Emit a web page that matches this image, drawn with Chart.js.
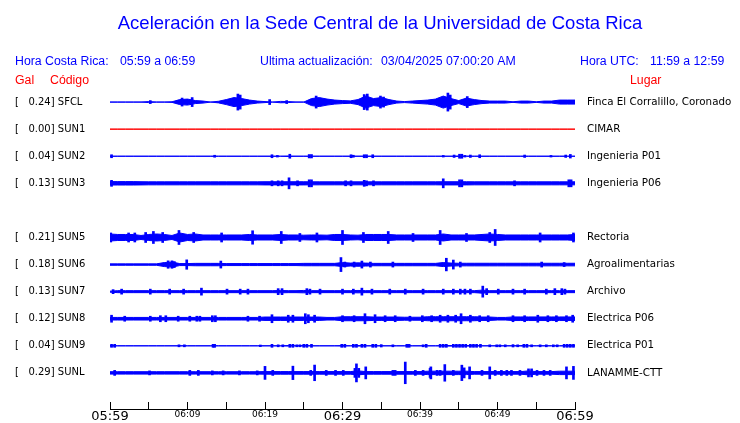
<!DOCTYPE html>
<html lang="es">
<head>
<meta charset="UTF-8">
<title>Aceleración en la Sede Central</title>
<style>
    body { margin: 0; background: #fff; }
</style>
</head>
<body>
<canvas id="sismo" width="740" height="423"></canvas>
<script src="https://cdn.jsdelivr.net/npm/chart.js"></script>
<script>
// ---- datos ----
const stations = ['SFCL', 'SUN1', 'SUN2', 'SUN3', 'SUN4', 'SUN5', 'SUN6', 'SUN7', 'SUN8', 'SUN9', 'SUNL'];
const galPeaks = [0.24, 0.00, 0.04, 0.13, null, 0.21, 0.18, 0.13, 0.12, 0.04, 0.29];
const places = ['Finca El Corralillo, Coronado', 'CIMAR', 'Ingenieria P01', 'Ingenieria P06', null,
    'Rectoria', 'Agroalimentarias', 'Archivo', 'Electrica P06', 'Electrica P01', 'LANAMME-CTT'];
const timeLabels = ['05:59', '06:09', '06:19', '06:29', '06:39', '06:49', '06:59'];
const utcLabels = ['11:59', '12:59'];
const lastUpdate = '03/04/2025 07:00:20 AM';

// envolvente (media amplitud) de cada traza, un valor por minuto 0..60
const envSFCL = [0, 0, 0, 0, 0, 0.5, 0, 0, 0.3, 2.5, 3, 1.5, 1, 0, 0.8, 2.5, 4.5, 3.5, 2, 1,
    0.5, 0, 0.7, 0.5, 0, 0, 3.5, 4.5, 3, 2, 1.5, 1.2, 2.5, 6, 3.5, 4.5, 2.5, 1, 0.5, 1,
    1.5, 2, 3, 6, 3.5, 1.5, 4, 2.5, 1.5, 1, 1, 1, 0.3, 1, 1, 0.3, 1, 1, 2, 2, 2];
const envSUN1 = [0, 0, 0, 0, 0, 0, 0, 0, 0, 0, 0, 0, 0, 0, 0, 0, 0, 0, 0, 0,
    0, 0, 0, 0, 0, 0, 0, 0, 0, 0, 0, 0, 0, 0, 0, 0, 0, 0, 0, 0,
    0, 0, 0, 0, 0, 0, 0, 0, 0, 0, 0, 0, 0, 0, 0, 0, 0, 0, 0, 0, 0];
const envSUN2 = [0, 0, 0, 0, 0, 0, 0, 0, 0, 0, 0, 0, 0, 0, 0, 0, 0, 0, 0, 0,
    0, 0, 0, 0.3, 0, 0, 0, 0, 0, 0, 0, 0, 0, 0, 0, 0, 0, 0, 0, 0,
    0, 0, 0, 0, 0, 0.3, 0, 0, 0, 0, 0, 0, 0, 0, 0, 0, 0, 0, 0, 0, 0];
const envSUN3 = [1.7, 1.7, 1.7, 1.7, 1.6, 1.5, 1.5, 1.5, 1.5, 1.5, 1.5, 1.5, 1.5, 1.5, 1.5, 1.5, 1.5, 1.5, 1.5, 1.5,
    1.6, 1.6, 1.6, 1.6, 1.6, 1.6, 1.5, 1.5, 1.5, 1.5, 1.5, 1.5, 1.5, 1.5, 1.5, 1.5, 1.5, 1.5, 1.5, 1.5,
    1.5, 1.5, 1.5, 1.6, 1.6, 1.6, 1.6, 1.5, 1.5, 1.5, 1.5, 1.5, 1.5, 1.5, 1.5, 1.5, 1.5, 1.5, 1.5, 1.5, 1.5];
const envSUN5 = [3.5, 3, 3, 3, 2, 3, 3.5, 3, 2, 4.5, 3, 3.5, 2.5, 2.5, 2.5, 2.5, 2.5, 2.5, 3, 2.5,
    2.5, 2.5, 3, 2.5, 2.5, 2.3, 2.5, 2.5, 2.3, 3, 3, 2.5, 2.3, 3, 3, 3, 3, 2.5, 2.5, 2.5,
    2.5, 2.5, 2.5, 3.5, 2.5, 2.5, 2.5, 2.5, 3, 3.5, 3, 2.5, 2.5, 2.5, 2.5, 2.5, 2.5, 2.5, 2.5, 2.5, 3];
const envSUN6 = [0.7, 0.7, 0.7, 0.7, 0.7, 0.7, 0.7, 2, 2.5, 1, 1, 1.2, 1.2, 1.2, 1.2, 1, 1, 1, 1, 1,
    1, 1, 1, 1, 1, 1.2, 1.2, 1.2, 1.2, 1.2, 2, 1.5, 1.7, 1.5, 1.2, 1.2, 1.2, 1.2, 1.2, 1.2,
    1.2, 1.2, 1.2, 2, 1.5, 1.3, 1.3, 1.3, 1.3, 1.3, 1.3, 1.3, 1.3, 1.3, 1.3, 1.3, 1.3, 1.3, 1.3, 1.3, 1.3];
const envSUN7 = [0.5, 1, 1, 1, 1, 1, 1, 1, 1, 1, 1, 1, 1, 1, 1, 1, 1, 1, 1, 1,
    1, 1, 1.2, 1, 1, 1.2, 1, 1, 1, 1, 1, 1, 1.2, 1, 1, 1, 1, 1, 1, 1,
    1, 1, 1, 1, 1, 1, 1, 1, 1.5, 1, 1, 1, 1, 1, 1, 1, 1, 1, 1, 1, 1];
const envSUN8 = [1.3, 1.3, 1.3, 1.3, 1.3, 1.3, 1.3, 1.3, 1.3, 1.3, 1.3, 1.3, 1.3, 1.3, 1.3, 1.3, 1.3, 1.3, 1.3, 1.3,
    1.7, 1.7, 1.7, 1.7, 1.7, 1.7, 1.7, 1.7, 1.3, 1.3, 2, 2, 2, 2, 1.7, 1.7, 1.7, 1.7, 1.5, 1.5,
    1.5, 2, 2, 2, 2, 2, 2, 2, 1.7, 1.7, 1.3, 1.3, 1.8, 1.8, 1.8, 1.8, 1.8, 1.8, 1.8, 1.8, 1.8];
const envSUN9 = [0.3, 0, 0, 0, 0, 0, 0, 0, 0, 0, 0, 0, 0, 0, 0, 0, 0, 0, 0, 0,
    0, 0, 0, 0.3, 0, 0.3, 0, 0, 0, 0, 0.3, 0, 0.3, 0, 0, 0, 0, 0, 0, 0,
    0, 0, 0, 0.3, 0.3, 0.3, 0.3, 0.3, 0, 0, 0, 0, 0, 0.3, 0, 0, 0, 0, 0, 0.3, 0.3];
const envSUNL = [1.2, 1.2, 1.2, 1.2, 1.2, 1.2, 1.2, 1.2, 1.2, 1.2, 1.2, 1.2, 1.2, 1.2, 1.2, 1.2, 1.2, 1.2, 1.2, 1.2,
    1.3, 1.3, 1.3, 1.3, 1.3, 1.3, 1.3, 1.3, 1.3, 1.3, 1.3, 1.3, 2, 1.3, 1.3, 1.3, 1.3, 1.3, 1.3, 1.3,
    1.3, 1.7, 1.7, 1.7, 1.7, 1.7, 1.7, 1.3, 1.3, 1.3, 1.3, 1.3, 1.3, 1.3, 2, 1.3, 1.3, 1.3, 1.7, 1.7, 1.7];

// picos aislados: [minuto, media amplitud]
const spikesSFCL = [[5.2, 1.5], [8.7, 1.5], [9.3, 4], [10.6, 4.5], [16.5, 8], [16.8, 7], [20.6, 2.5], [22.8, 1.5],
    [26.6, 6], [32.8, 7.5], [33.2, 8], [34.9, 6], [35.3, 5], [43.6, 9], [43.9, 7], [46.1, 5.5]];
const spikesSUN1 = [];
const spikesSUN2 = [[0.2, 1.5], [13.5, 1], [20.9, 1.5], [21.6, 0.8], [23.2, 2], [25.7, 1.7], [26, 1.7], [31.1, 1.5],
    [31.4, 1], [32.8, 1.5], [33.1, 1.5], [33.9, 1.5], [43, 0.8], [44.4, 1.2], [45.1, 2], [45.4, 2], [45.8, 0.8],
    [46.5, 1.2], [47.7, 1.5], [53.5, 1.2], [56.9, 0.8], [58.8, 1.2], [59.4, 1.8]];
const spikesSUN3 = [[0.2, 3], [20.9, 2.5], [21.7, 2.5], [22.2, 2.5], [23.1, 5.5], [24.2, 2.5], [25.7, 3.5], [26, 3.5],
    [30.4, 2.5], [31.1, 2.5], [32.8, 3], [33.1, 2.5], [34, 2.5], [43, 4.5], [45.1, 3.5], [45.4, 3.5], [52.2, 2.5],
    [59.2, 3.5], [59.5, 3.5]];
const spikesSUN5 = [[0.1, 4.5], [2.4, 4.5], [3.2, 4.5], [4.6, 5], [5.6, 6], [6.8, 5], [8.9, 7], [10.8, 5], [14.4, 4.5],
    [18.4, 6.7], [22.1, 6], [24.5, 4], [26.7, 4.5], [30, 7], [32.7, 5], [35.9, 6], [39.1, 4], [42.6, 7], [46, 4],
    [49, 5], [49.7, 8], [55.5, 4.5], [59.8, 4.5]];
const spikesSUN6 = [[7.5, 3.7], [8, 3.7], [8.3, 3], [9.9, 4.7], [14.3, 3.5], [29.8, 7], [30.3, 2.5], [31.5, 2.5],
    [32.5, 3.5], [33.6, 2.5], [36.5, 2.5], [43.4, 6.3], [44.3, 4.5], [45.2, 2.5], [55.7, 2.5], [58.6, 2]];
const spikesSUN7 = [[0.4, 2], [1.5, 2.5], [5.2, 2.5], [7.7, 2.5], [9.5, 2.5], [11.8, 3.5], [15.1, 2.5], [16.8, 2.5],
    [17.8, 2.5], [21.7, 3], [22.2, 3], [25.4, 3], [25.8, 2.5], [27.1, 2.5], [30, 2.5], [31.4, 2.5], [32.5, 3.5],
    [33.8, 2.5], [36.1, 2.5], [38.1, 2.5], [40.4, 2.5], [43, 2.5], [44.3, 2.5], [45.2, 2.5], [45.8, 2.5],
    [46.5, 2.5], [48.1, 5.5], [48.6, 3], [50.1, 2.5], [52, 2.5], [53.5, 2.5], [56.3, 2.5], [57.4, 3], [58.3, 3],
    [58.7, 2.5]];
const spikesSUN8 = [[0.2, 3.5], [1.9, 2.5], [5.2, 2.5], [6.5, 3], [7.2, 3], [8.8, 2.5], [10.3, 2.5], [11.2, 2.5],
    [11.6, 2.5], [13.2, 3], [13.6, 3], [17.8, 2.5], [19.3, 2.5], [20.9, 4], [23, 3.5], [23.6, 3.5], [25.2, 5],
    [25.6, 4], [26.4, 3.5], [30, 3], [31.5, 3], [32.9, 5], [34.2, 4], [35.5, 3], [36.8, 3], [38.7, 2.5], [40.3, 3],
    [41.5, 3], [42.6, 3.5], [43.6, 3.5], [44.6, 3.5], [45.3, 5], [46.5, 3.5], [47.7, 3], [48.8, 3], [52, 3],
    [53.5, 3], [55.2, 3.5], [56.5, 3], [57.6, 3], [58.9, 3], [59.7, 3.5]];
const spikesSUN9 = [[0.2, 1.5], [0.6, 1.5], [8.9, 1], [9.6, 1], [13.3, 1.5], [13.5, 1.5], [19.4, 0.8], [20.9, 1.5],
    [21.7, 1], [22.3, 1], [23.2, 1.5], [23.6, 1.5], [24.1, 1], [24.5, 1], [25, 1.5], [25.4, 1.5], [26, 1.5],
    [29.9, 1.5], [30.3, 1.5], [31.4, 1.5], [31.8, 1.5], [32.5, 1.5], [32.9, 1.5], [33.9, 1.5], [34.3, 1.5],
    [35, 1.2], [36.5, 1], [38.3, 1.5], [38.6, 1.5], [40.4, 1], [40.8, 1.5], [42.6, 1.5], [43, 1.5], [43.4, 1.5],
    [44.3, 1.5], [44.7, 1.5], [45.1, 1.5], [45.5, 1.5], [45.9, 1.5], [46.5, 1.5], [46.9, 1.5], [47.3, 1.5],
    [47.8, 1.5], [49, 1], [49.9, 1], [50.3, 1], [51, 1], [52, 1.2], [52.6, 1], [53.4, 1.5], [53.8, 1.5],
    [54.4, 1], [55.5, 1], [56.3, 1], [57.2, 1], [57.7, 1], [58.6, 1.5], [59, 1.5], [59.4, 1.5], [59.8, 1.5]];
const spikesSUNL = [[0.6, 2.5], [5.1, 2], [10.3, 2.5], [11.4, 2.5], [13.2, 2], [14.6, 2], [16.7, 2], [19, 2],
    [20, 6.5], [21, 2.5], [23.6, 6.7], [25.9, 2.5], [26.4, 7.8], [27.9, 2.5], [29.1, 2.5], [30.1, 2.5],
    [31.6, 4.5], [31.8, 9], [32.1, 4.5], [33, 6], [36.5, 2.5], [36.8, 2.5], [38.1, 10.8], [39.4, 2.5],
    [40.4, 2.5], [41.3, 4.5], [41.4, 6], [42.2, 2.5], [42.6, 2.5], [43.2, 8.3], [44.3, 2.5], [45.4, 7.7],
    [45.7, 5], [46.4, 6], [48, 2.5], [49, 6], [49.7, 2.5], [50.5, 2.5], [51.2, 2.5], [51.8, 2.5], [52.9, 2.5],
    [54, 4], [54.4, 4], [55.1, 2.5], [56, 2.5], [56.8, 2.5], [58.9, 6], [59.8, 6.5]];

const envelopes = [envSFCL, envSUN1, envSUN2, envSUN3, null, envSUN5, envSUN6, envSUN7, envSUN8, envSUN9, envSUNL];
const spikeSets = [spikesSFCL, spikesSUN1, spikesSUN2, spikesSUN3, null, spikesSUN5, spikesSUN6, spikesSUN7,
    spikesSUN8, spikesSUN9, spikesSUNL];

// ---- estilo ----
const ROW = 27;
const BLUE = '#0000ff';
const RED = '#ff0000';
const offsetOf = i => i * ROW;

const datasets = [];
stations.forEach((name, i) => {
    const env = envelopes[i];
    if (!env) return; // SUN4 sin datos
    const off = offsetOf(i);
    const color = galPeaks[i] === 0 ? RED : BLUE;
    datasets.push({
        type: 'line', label: name,
        data: env.map((a, m) => ({ x: m, y: off - a })),
        borderColor: color, borderWidth: 1, pointRadius: 0, fill: false
    });
    datasets.push({
        type: 'line', label: name,
        data: env.map((a, m) => ({ x: m, y: off + a })),
        borderColor: color, backgroundColor: color, borderWidth: 1, pointRadius: 0, fill: '-1'
    });
    datasets.push({
        type: 'bar', label: name,
        data: spikeSets[i].map(([t, a]) => ({ x: t, y: [off - a, off + a] })),
        backgroundColor: color, borderWidth: 0, barThickness: 2, grouped: false
    });
});

const stationTicks = scale => {
    scale.ticks = stations
        .map((s, i) => (envelopes[i] ? { value: offsetOf(i) } : null))
        .filter(t => t);
};

// textos de cabecera
const headerText = {
    id: 'headerText',
    afterDraw(chart) {
        const c = chart.ctx;
        c.save();
        c.fillStyle = BLUE;
        c.font = '18.5px "Liberation Sans"';
        c.textAlign = 'center';
        c.fillText('Aceleración en la Sede Central de la Universidad de Costa Rica', 380, 29);
        c.textAlign = 'left';
        c.font = '12.3px "Liberation Sans"';
        c.fillText('Hora Costa Rica:', 15, 65);
        c.fillText(timeLabels[0] + ' a ' + timeLabels[timeLabels.length - 1], 120, 65);
        c.fillText('Ultima actualización:', 260, 65);
        c.fillText(lastUpdate, 381, 65);
        c.fillText('Hora UTC:', 580, 65);
        c.fillText(utcLabels[0] + ' a ' + utcLabels[1], 650, 65);
        c.fillStyle = RED;
        c.fillText('Gal', 15, 84);
        c.fillText('Código', 50, 84);
        c.fillText('Lugar', 630, 84);
        c.restore();
    }
};

Chart.defaults.font.family = '"DejaVu Sans"';
Chart.defaults.color = '#000';

new Chart(document.getElementById('sismo'), {
    type: 'line',
    data: { datasets: datasets },
    plugins: [headerText],
    options: {
        responsive: false,
        animation: false,
        devicePixelRatio: 1,
        layout: { autoPadding: false, padding: { left: 15, top: 75, right: 0, bottom: 0 } },
        plugins: { legend: { display: false }, tooltip: { enabled: false } },
        scales: {
            x: {
                type: 'linear', min: 0, max: 60, offset: false,
                grid: { offset: false, drawOnChartArea: false, drawTicks: true, tickLength: -7, color: '#000' },
                border: { display: true, color: '#000' },
                ticks: {
                    stepSize: 5, autoSkip: false, maxRotation: 0, padding: 7, color: '#000',
                    font: ctx => ({ size: (ctx.tick && ctx.tick.value % 30 === 0) ? 13 : 9 }),
                    callback: v => (v % 10 === 0 ? timeLabels[v / 10] : '')
                },
                afterFit: s => { s.height = 14; }
            },
            y: {
                type: 'linear', position: 'left', reverse: true, min: -ROW, max: ROW * 11 + 9,
                grid: { display: false, drawTicks: false }, border: { display: false },
                afterBuildTicks: stationTicks,
                ticks: {
                    autoSkip: false, crossAlign: 'far', padding: 0, font: { size: 10 },
                    callback: v => {
                        const i = Math.round(v / ROW);
                        return '[   ' + galPeaks[i].toFixed(2) + '] ' + stations[i];
                    }
                },
                afterFit: s => { s.width = 95; }
            },
            y2: {
                type: 'linear', position: 'right', reverse: true, min: -ROW, max: ROW * 11 + 9, display: true,
                grid: { drawOnChartArea: false, drawTicks: true, tickLength: 12, color: 'rgba(0,0,0,0)' },
                border: { display: false },
                afterBuildTicks: stationTicks,
                ticks: {
                    autoSkip: false, crossAlign: 'near', padding: 0, font: { size: 10.3 },
                    callback: v => places[Math.round(v / ROW)]
                },
                afterFit: s => { s.width = 165; }
            }
        }
    }
});
</script>
</body>
</html>
